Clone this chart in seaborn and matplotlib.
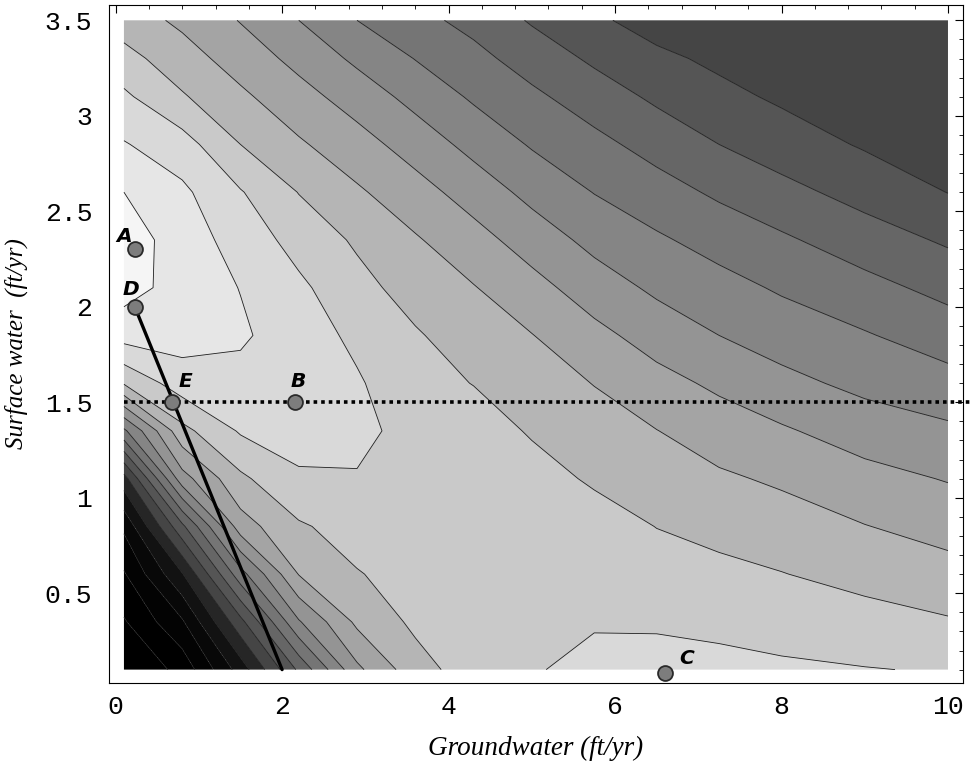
import numpy as np
import pandas as pd
import matplotlib
matplotlib.use("Agg")
import matplotlib.pyplot as plt
import seaborn as sns
from matplotlib.ticker import MultipleLocator, FixedLocator

# ---------------- data ----------------
# grid nodes (Groundwater on x, Surface water on y)
groundwater_nodes = [0.1, 0.8, 1.5, 2.2, 2.9, 3.6, 4.3, 5.0, 5.75, 6.5, 7.25, 8.0, 9.0, 10.0]
surface_nodes = [0.10, 0.35, 0.60, 0.85, 1.10, 1.35, 1.60, 1.85, 2.10, 2.35, 2.60, 2.85, 3.10, 3.30, 3.50]

# estimated contour level (index) at each node, one row per surface-water value
row_010 = [-5.0, -3.67, -0.56, 3.19, 6.78, 8.6, 9.5, 9.97, 10.1, 10.15, 10.18, 10.12, 10.04, 9.93]
row_035 = [-4.1, -2.13, 1.69, 5.9, 8.21, 9.2, 9.7, 9.85, 9.97, 9.95, 9.85, 9.7, 9.37, 9.09]
row_060 = [-3.1, -0.07, 4.62, 8.04, 8.94, 9.4, 9.75, 9.75, 9.75, 9.45, 9.25, 9.03, 8.68, 8.35]
row_085 = [-1.8, 2.77, 7.54, 8.87, 9.44, 9.55, 9.75, 9.6, 9.45, 8.98, 8.7, 8.46, 8.03, 7.64]
row_110 = [0.6, 6.6, 8.8, 9.88, 9.92, 9.65, 9.7, 9.4, 8.86, 8.5, 8.15, 7.85, 7.33, 6.94]
row_135 = [4.8, 8.7, 10.11, 10.35, 10.3, 9.6, 9.5, 8.9, 8.42, 8.02, 7.51, 7.12, 6.54, 6.18]
row_160 = [9.1, 10.54, 10.67, 10.5, 10.1, 9.4, 8.97, 8.47, 7.97, 7.33, 6.81, 6.28, 5.74, 5.34]
row_185 = [11.4, 11.4, 11.15, 10.45, 9.8, 9.1, 8.51, 8.03, 7.28, 6.58, 6.0, 5.55, 5.08, 4.52]
row_210 = [12.4, 11.6, 10.97, 10.2, 9.31, 8.6, 8.05, 7.34, 6.5, 5.81, 5.34, 4.88, 4.31, 3.7]
row_235 = [12.55, 11.5, 10.6, 9.63, 8.86, 8.1, 7.37, 6.55, 5.71, 5.14, 4.63, 4.15, 3.48, 2.86]
row_260 = [12.0, 11.2, 10.07, 8.97, 8.14, 7.39, 6.57, 5.71, 4.97, 4.41, 3.83, 3.31, 2.63, 1.98]
row_285 = [11.07, 10.42, 9.0, 8.13, 7.39, 6.57, 5.69, 4.91, 4.28, 3.63, 3.0, 2.48, 1.9, 1.8]
row_310 = [10.18, 9.1, 8.19, 7.36, 6.56, 5.68, 4.86, 4.2, 3.5, 2.82, 2.26, 1.85, 1.7, 1.6]
row_330 = [9.35, 8.42, 7.56, 6.71, 5.8, 4.97, 4.29, 3.57, 2.83, 2.21, 1.8, 1.6, 1.55, 1.45]
row_350 = [8.5, 7.8, 6.95, 6.0, 5.0, 4.3, 3.7, 2.9, 2.17, 1.6, 1.5, 1.4, 1.4, 1.3]

# gray shade of each band (band k lies between contour k and k+1), k = -6 .. 12
band_index = [-6, -5, -4, -3, -2, -1, 0, 1, 2, 3, 4, 5, 6, 7, 8, 9, 10, 11, 12]
band_gray = [0.0, 0.0, 0.0, 0.01, 0.03, 0.07, 0.15, 0.27, 0.335, 0.40, 0.46,
             0.52, 0.58, 0.645, 0.71, 0.79, 0.85, 0.90, 0.96]

# labelled points
point_labels = ["A", "D", "E", "B", "C"]
point_x = [0.23, 0.23, 0.68, 2.15, 6.6]
point_y = [2.30, 2.00, 1.50, 1.50, 0.08]

# solid constraint line (through D and E) and dotted surface-water limit
constraint_x = [0.23, 2.0]
constraint_y = [2.0, 0.1]
limit_x = [0.1, 10.3]
limit_y = [1.5, 1.5]

x_ticks = [0, 2, 4, 6, 8, 10]
y_ticks = [0.5, 1.0, 1.5, 2.0, 2.5, 3.0, 3.5]
y_tick_labels = ["0.5", "1", "1.5", "2", "2.5", "3", "3.5"]

# ---------------- figure ----------------
sns.set_theme(style="white")
plt.rcParams["font.family"] = ["Liberation Mono", "DejaVu Sans"]

fig = plt.figure(figsize=(9.72, 7.74), dpi=100)
ax = fig.add_axes([0.1121, 0.1176, 0.8786, 0.8759])

Z = np.array([row_010, row_035, row_060, row_085, row_110, row_135, row_160,
              row_185, row_210, row_235, row_260, row_285, row_310, row_330, row_350])
X, Y = np.meshgrid(groundwater_nodes, surface_nodes)

levels = band_index + [band_index[-1] + 1]
band_colors = [(g, g, g) for g in band_gray]
ax.contourf(X, Y, Z, levels=levels, colors=band_colors, antialiased=True)
ax.contour(X, Y, Z, levels=np.arange(-4, 13), colors="#1c1c1c", linewidths=0.6)

# lines
sns.lineplot(x=constraint_x, y=constraint_y, ax=ax, color="black", linewidth=2.4,
             sort=False, estimator=None, zorder=4)
sns.lineplot(x=limit_x, y=limit_y, ax=ax, color="black", linewidth=2.6,
             linestyle=(0, (1.0, 1.1)), dash_capstyle="butt", sort=False,
             estimator=None, zorder=4, clip_on=False)

# points
pts = pd.DataFrame({"x": point_x, "y": point_y, "label": point_labels})
sns.scatterplot(data=pts, x="x", y="y", ax=ax, s=115, color="#7d7d7d",
                edgecolor="#2a2a2a", linewidth=1.3, zorder=6, clip_on=False)
label_offsets = {"A": (-0.13, 0.07), "D": (-0.04, 0.09), "E": (0.16, 0.11),
                 "B": (0.05, 0.11), "C": (0.26, 0.08)}
for lab, px, py in zip(point_labels, point_x, point_y):
    dx, dy = label_offsets[lab]
    ax.text(px + dx, py + dy, lab, fontsize=14.5, fontweight="bold", fontstyle="italic",
            family=["DejaVu Sans"], ha="center", va="center", color="black", zorder=7)

# axes styling (Mathematica-like frame)
ax.set_xlim(-0.08, 10.18)
ax.set_ylim(0.03, 3.58)
ax.xaxis.set_major_locator(FixedLocator(x_ticks))
ax.xaxis.set_minor_locator(MultipleLocator(0.4))
ax.yaxis.set_major_locator(FixedLocator(y_ticks))
ax.yaxis.set_minor_locator(MultipleLocator(0.1))
ax.set_xticklabels([str(t) for t in x_ticks])
ax.set_yticklabels(y_tick_labels)
ax.tick_params(which="major", direction="in", top=True, right=True, length=6,
               width=0.8, color="black", labelsize=19, labelcolor="black")
ax.tick_params(axis="x", which="major", pad=9)
ax.tick_params(axis="y", which="major", pad=12)
ax.tick_params(which="minor", direction="in", top=True, right=True, length=3,
               width=0.6, color="black")
for sp in ax.spines.values():
    sp.set_color("black")
    sp.set_linewidth(0.8)
ax.grid(False)

ax.set_xlabel("Groundwater (ft/yr)", fontsize=19.5, fontstyle="italic",
              family=["Liberation Serif"], labelpad=12, color="black")
ax.set_ylabel("Surface water  (ft/yr)", fontsize=18, fontstyle="italic",
              family=["Liberation Serif"], labelpad=12, color="black")

fig.savefig("out.png", dpi=100, facecolor="white")
